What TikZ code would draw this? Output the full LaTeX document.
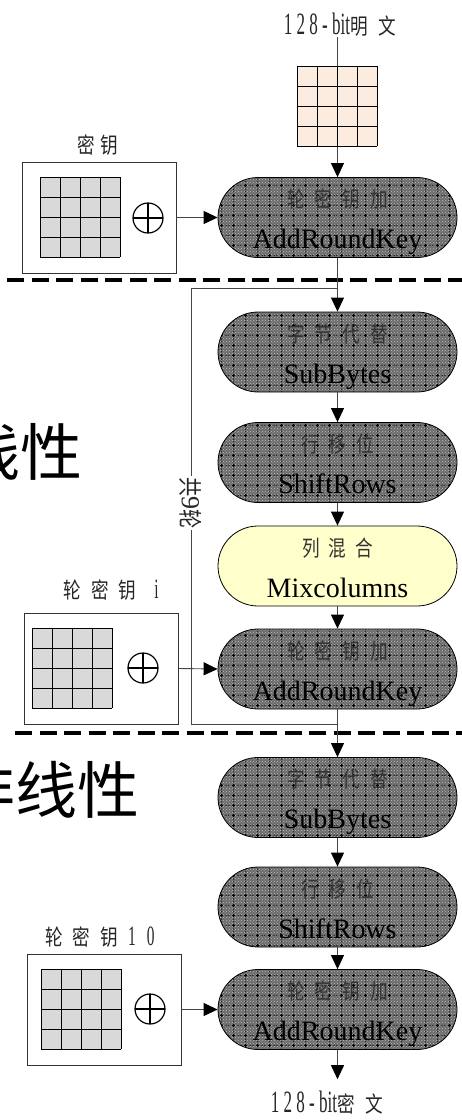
\documentclass[tikz,border=0pt]{standalone}
\usepackage{fontspec}
\setmainfont{Liberation Serif}
\newfontfamily\cjk{Noto Sans CJK SC}
\newfontfamily\cjknarrow[FakeStretch=0.8]{Noto Sans CJK SC}
\newfontfamily\condserif[FakeStretch=0.55]{Liberation Serif}
\usetikzlibrary{arrows.meta,patterns,calc}

% dotted grid texture of the stage boxes
\pgfdeclarepatternformonly{aesgrid}{\pgfqpoint{0pt}{0pt}}{\pgfqpoint{12pt}{10pt}}{\pgfqpoint{12pt}{10pt}}{%
  \pgfpathrectangle{\pgfqpoint{4.5pt}{4.5pt}}{\pgfqpoint{3pt}{1pt}}%
  \pgfpathrectangle{\pgfqpoint{5.5pt}{3.5pt}}{\pgfqpoint{1pt}{3pt}}%
  \pgfpathrectangle{\pgfqpoint{0.5pt}{4.5pt}}{\pgfqpoint{1pt}{1pt}}%
  \pgfpathrectangle{\pgfqpoint{10.5pt}{4.5pt}}{\pgfqpoint{1pt}{1pt}}%
  \pgfpathrectangle{\pgfqpoint{5.5pt}{0.5pt}}{\pgfqpoint{1pt}{1pt}}%
  \pgfpathrectangle{\pgfqpoint{5.5pt}{8.5pt}}{\pgfqpoint{1pt}{1pt}}%
  \pgfusepath{fill}}

\definecolor{ptfill}{RGB}{252,236,224}
\definecolor{keyfill}{RGB}{217,217,217}
\definecolor{mixfill}{RGB}{255,255,204}
\definecolor{wire}{RGB}{70,70,70}

% two-line text of a stage: Chinese name over English name
\newcommand\stagetext[2]{\begin{tabular}{@{}c@{}}\rule{0pt}{30pt}{\fontsize{22}{22}\cjknarrow\color{black!80}#1}\\[11pt]#2\end{tabular}}
% 4x4 state matrix with its upper left corner at (#1,#2)
\newcommand\statematrix[3]{%
  \begin{scope}[shift={(#1,#2)}]
    \fill[#3] (0,0) rectangle (80,80);
    \foreach \i in {0,20,...,80}{\draw[gridline] (\i,0) -- (\i,80) (0,\i) -- (80,\i);}
  \end{scope}}
\newcommand\gap[1]{\hspace{#1pt}}

\begin{document}
\begin{tikzpicture}[x=1pt,y=-1pt,
  stage/.style={rectangle, rounded corners=40pt, minimum width=239pt, minimum height=80pt,
    draw=black, line width=0.8pt, inner sep=0pt, font=\fontsize{28}{30}\selectfont},
  shaded/.style={stage, preaction={fill=black!58},
    preaction={pattern=crosshatch dots, pattern color=white!75!black},
    pattern=aesgrid, pattern color=black},
  mixstage/.style={stage, fill=mixfill},
  keybox/.style={draw=black!80, line width=0.8pt, minimum width=154pt, minimum height=111pt, inner sep=0pt},
  xor/.style={circle, draw=black, line width=1.2pt, minimum size=30pt, inner sep=0pt,
    path picture={\draw[line width=1.2pt] (path picture bounding box.north) -- (path picture bounding box.south)
      (path picture bounding box.west) -- (path picture bounding box.east);}},
  gridline/.style={draw=black, line width=0.8pt},
  flow/.style={draw=wire, line width=0.9pt, -{Triangle[width=13pt,length=14pt,color=black]}},
  wireline/.style={draw=wire, line width=0.9pt},
  sep/.style={draw=black, line width=4pt, dash pattern=on 17pt off 7.5pt},
  lbl/.style={inner sep=0pt, text=black!85, font=\fontsize{22}{22}\cjknarrow},
  bitlbl/.style={inner sep=0pt, text=black!85, font=\fontsize{31}{31}\condserif},
  bigcn/.style={inner sep=0pt, font=\fontsize{62}{62}\cjk, anchor=east}
]
\useasboundingbox (0,0) rectangle (462,1120);

% phase separators
\draw[sep] (7,280) -- (462,280);
\draw[sep] (15,733) -- (462,733);

% phase titles
\node[bigcn] (lin) at (83,452) {线性};
\node[bigcn] (nonlin) at (140,790) {非线性};

% input and output labels
\node[bitlbl] (pt) at (340,25) {1 2 8 - bit{\fontsize{22}{22}\cjknarrow 明\gap{11}文}};
\node[bitlbl] (ct) at (327,1103) {1 2 8 - bit{\fontsize{22}{22}\cjknarrow 密\gap{11}文}};

% stages
\node[shaded] (ark0) at (337.5,217.5) {\stagetext{轮\gap{10}密\gap{10}钥\gap{10}加}{AddRoundKey}};
\node[shaded] (sb1) at (337.5,352) {\stagetext{字\gap{10}节\gap{10}代\gap{10}替}{SubBytes}};
\node[shaded] (sr1) at (337.5,462.5) {\stagetext{行\gap{10}移\gap{10}位}{ShiftRows}};
\node[mixstage] (mc) at (337.5,566) {\stagetext{列\gap{9}混\gap{9}合}{Mixcolumns}};
\node[shaded] (ark1) at (337.5,669) {\stagetext{轮\gap{10}密\gap{10}钥\gap{10}加}{AddRoundKey}};
\node[shaded] (sb2) at (337.5,797.5) {\stagetext{字\gap{10}节\gap{10}代\gap{10}替}{SubBytes}};
\node[shaded] (sr2) at (337.5,907) {\stagetext{行\gap{10}移\gap{10}位}{ShiftRows}};
\node[shaded] (ark2) at (337.5,1009.5) {\stagetext{轮\gap{10}密\gap{10}钥\gap{10}加}{AddRoundKey}};

% round key boxes
\node[keybox] (key0) at (99,217.5) {};
\node[keybox] (key1) at (101,668.5) {};
\node[keybox] (key2) at (104,1009.5) {};
\node[lbl] (key0lbl) at (98,145) {密\gap{6}钥};
\node[lbl] (key1lbl) at (111,590) {轮\gap{10}密\gap{10}钥\gap{18}{\fontsize{28}{28}\condserif i}};
\node[lbl] (key2lbl) at (100,937) {轮\gap{10}密\gap{10}钥\gap{10}{\fontsize{28}{28}\condserif 1\gap{11}0}};
\statematrix{40}{177}{keyfill}
\statematrix{32}{628}{keyfill}
\statematrix{41}{969}{keyfill}
\node[xor] (xor0) at (148,218) {};
\node[xor] (xor1) at (143,668) {};
\node[xor] (xor2) at (150,1009) {};

% data path
\draw[flow] (pt.south -| ark0.north) -- (ark0.north);
\statematrix{297}{66}{ptfill}
\draw[flow] (ark0.south) -- (sb1.north);
\draw[flow] (sb1.south) -- (sr1.north);
\draw[flow] (sr1.south) -- (mc.north);
\draw[flow] (mc.south) -- (ark1.north);
\draw[flow] (ark1.south) -- (sb2.north);
\draw[flow] (sb2.south) -- (sr2.north);
\draw[flow] (sr2.south) -- (ark2.north);
\draw[flow, shorten >=12pt] (ark2.south) -- (ark2.south |- ct.north);

% round keys into AddRoundKey
\draw[flow] (key0.east) -- (ark0.west);
\draw[flow] (key1.east) -- (ark1.west);
\draw[flow] (key2.east) -- (ark2.west);

% nine-round loop
\coordinate (lpTop) at (337.5,288);
\coordinate (lpBot) at (337.5,724);
\draw[wireline] (lpBot) -| (191,288) -- (lpTop);
\node[fill=white, rotate=-90, inner sep=1pt, text=black!85] (rounds) at (191,503)
  {{\fontsize{24}{24}\cjknarrow 共}{\fontsize{26}{26}\selectfont 9}{\fontsize{24}{24}\cjknarrow 轮}};
\end{tikzpicture}
\end{document}
